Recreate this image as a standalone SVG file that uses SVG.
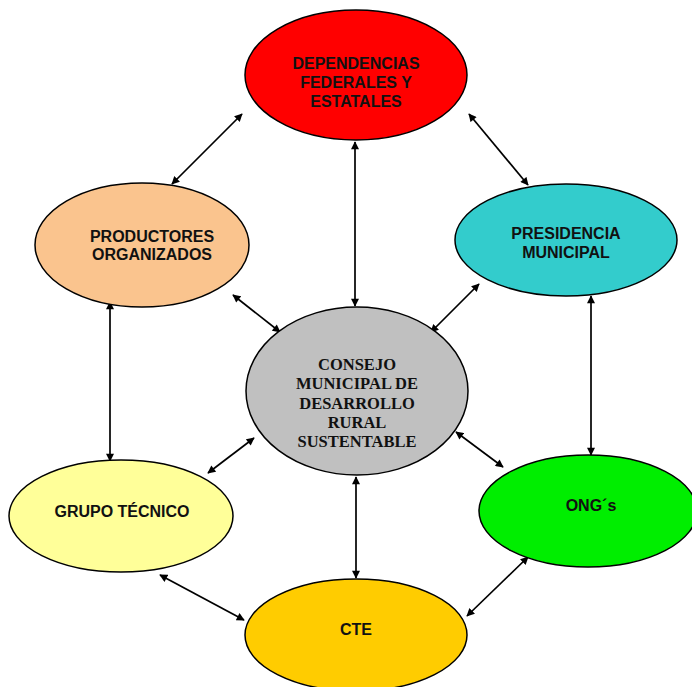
<svg xmlns="http://www.w3.org/2000/svg" width="692" height="687" viewBox="0 0 692 687">
<style>
.n{stroke:#000;stroke-width:1.5}
.t{font-family:"Liberation Sans",Arial,sans-serif;font-weight:bold;font-size:16px;fill:#111;text-anchor:middle}
.s{font-family:"Liberation Serif","Times New Roman",serif;font-weight:bold;font-size:16.5px;fill:#111;text-anchor:middle}
.c{stroke:#000;stroke-width:1.7;fill:none;marker-start:url(#a);marker-end:url(#a)}
</style>
<defs>
<marker id="a" viewBox="0 0 10 10" refX="9" refY="5" markerWidth="9" markerHeight="8" orient="auto-start-reverse" markerUnits="userSpaceOnUse">
<path d="M0,0 L10,5 L0,10 z" fill="#000"/>
</marker>
</defs>
<rect width="692" height="687" fill="#fff"/>
<g id="connectors">
<line class="c" x1="242" y1="114" x2="172" y2="184"/>
<line class="c" x1="469" y1="114" x2="528" y2="185"/>
<line class="c" x1="355" y1="142" x2="355" y2="306"/>
<line class="c" x1="233" y1="295" x2="280" y2="332"/>
<line class="c" x1="479" y1="284" x2="431" y2="332"/>
<line class="c" x1="110" y1="302" x2="110" y2="461"/>
<line class="c" x1="591" y1="296" x2="591" y2="455"/>
<line class="c" x1="254" y1="438" x2="208" y2="473"/>
<line class="c" x1="456" y1="432" x2="503" y2="467"/>
<line class="c" x1="356" y1="477" x2="356" y2="578"/>
<line class="c" x1="160" y1="575" x2="244" y2="620"/>
<line class="c" x1="528" y1="557" x2="467" y2="616"/>
</g>
<g id="dependencias">
<ellipse class="n" cx="356" cy="75" rx="111" ry="65" fill="#ff0000"/>
<text class="t" x="356" y="69">DEPENDENCIAS</text>
<text class="t" x="356" y="88">FEDERALES Y</text>
<text class="t" x="356" y="107">ESTATALES</text>
</g>
<g id="productores">
<ellipse class="n" cx="142" cy="245" rx="107" ry="62" fill="#fac48e"/>
<text class="t" x="152" y="242">PRODUCTORES</text>
<text class="t" x="152" y="260">ORGANIZADOS</text>
</g>
<g id="presidencia">
<ellipse class="n" cx="566" cy="240" rx="111" ry="56" fill="#33cccc"/>
<text class="t" x="566" y="239">PRESIDENCIA</text>
<text class="t" x="566" y="258">MUNICIPAL</text>
</g>
<g id="consejo">
<ellipse class="n" cx="357" cy="391" rx="111" ry="84" fill="#c0c0c0"/>
<text class="s" x="357" y="370">CONSEJO</text>
<text class="s" x="357" y="389">MUNICIPAL DE</text>
<text class="s" x="357" y="409">DESARROLLO</text>
<text class="s" x="357" y="428">RURAL</text>
<text class="s" x="357" y="447">SUSTENTABLE</text>
</g>
<g id="grupo">
<ellipse class="n" cx="121" cy="516" rx="112" ry="56" fill="#ffff99"/>
<text class="t" x="122" y="517">GRUPO TÉCNICO</text>
</g>
<g id="ong">
<ellipse class="n" cx="588" cy="511" rx="109" ry="56" fill="#00ee00"/>
<text class="t" x="591" y="511">ONG´s</text>
</g>
<g id="cte">
<ellipse class="n" cx="356" cy="635" rx="111" ry="56" fill="#ffcc00"/>
<text class="t" x="356" y="635">CTE</text>
</g>
</svg>
